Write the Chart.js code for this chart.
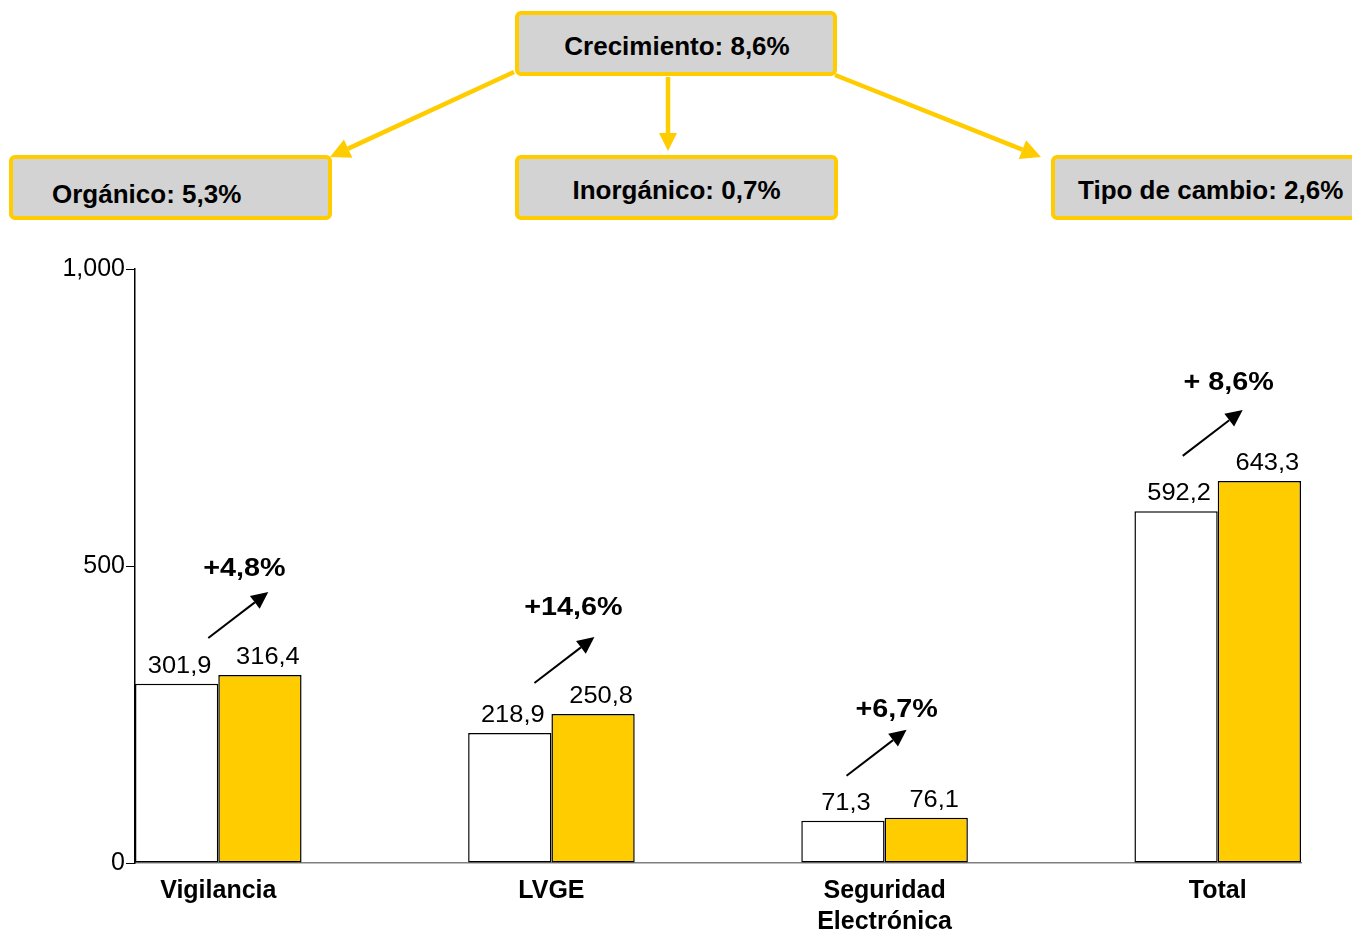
<!DOCTYPE html>
<html>
<head>
<meta charset="utf-8">
<script src="https://cdn.jsdelivr.net/npm/chart.js@4.4.1/dist/chart.umd.min.js"></script>
<style>
    html, body { margin: 0; padding: 0; background: #fff; overflow: hidden; }
    #wrap { position: relative; width: 1352px; height: 935px; }
    #myChart { position: absolute; left: 0; top: 0; }
    .caja {
        position: absolute;
        box-sizing: border-box;
        height: 65px;
        border: 4px solid #ffcc00;
        border-radius: 6px;
        background: #d3d3d3;
        font: bold 26px Arial, "Liberation Sans", sans-serif;
        color: #000;
        line-height: 57px;
        white-space: nowrap;
    }
</style>
</head>
<body>
<div id="wrap">
    <canvas id="myChart" width="1352" height="935"></canvas>
    <div class="caja" style="left:515px; top:11px; width:322px; text-align:center; padding-left:2px; padding-top:3px;">Crecimiento: 8,6%</div>
    <div class="caja" style="left:9px; top:155px; width:323px; padding-left:39px; padding-top:7px;">Orgánico: 5,3%</div>
    <div class="caja" style="left:515px; top:155px; width:323px; text-align:center; padding-top:3px;">Inorgánico: 0,7%</div>
    <div class="caja" style="left:1051px; top:155px; width:330px; padding-left:23px; padding-top:3px;">Tipo de cambio: 2,6%</div>
</div>
<script>
// dane
const kategorie = ['Vigilancia', 'LVGE', ['Seguridad', 'Electrónica'], 'Total'];
const rok_poprzedni = [301.9, 218.9, 71.3, 592.2];
const rok_biezacy = [316.4, 250.8, 76.1, 643.3];
const wzrost = ['+4,8%', '+14,6%', '+6,7%', '+ 8,6%'];
const ticki_y = [0, 500, 1000];

const FONT = 'Arial, "Liberation Sans", sans-serif';
Chart.defaults.font.family = FONT;
Chart.defaults.color = '#000';

function punkty(wartosci) {
    return wartosci.map(function (v, i) { return { x: i, y: v }; });
}

function formatuj(v) {
    return v.toFixed(1).replace('.', ',');
}

function strzalka(ctx, x0, y0, x1, y1, kolor, grubosc, dl, szer) {
    var dx = x1 - x0, dy = y1 - y0;
    var len = Math.sqrt(dx * dx + dy * dy);
    var ux = dx / len, uy = dy / len;
    var bx = x1 - ux * dl, by = y1 - uy * dl;
    ctx.save();
    ctx.strokeStyle = kolor;
    ctx.fillStyle = kolor;
    ctx.lineWidth = grubosc;
    ctx.beginPath();
    ctx.moveTo(x0, y0);
    ctx.lineTo(bx, by);
    ctx.stroke();
    ctx.beginPath();
    ctx.moveTo(x1, y1);
    ctx.lineTo(bx + uy * szer, by - ux * szer);
    ctx.lineTo(bx - uy * szer, by + ux * szer);
    ctx.closePath();
    ctx.fill();
    ctx.restore();
}

// przesuniecia strzalek wzgledem srodka grupy / wierzcholka slupka
const przes_strzalki = [[-10, -37], [-17, -31], [-38, -42], [-35, -25]];
const przes_etykiety = [[-24, -25], [-21, -31], [-10, -22], [-14, -29]];

const adnotacje = {
    id: 'adnotacje',
    afterDatasetsDraw: function (chart) {
        var ctx = chart.ctx;
        // zolte strzalki naglowka
        strzalka(ctx, 514, 72, 330, 157, '#ffcc00', 4.5, 20, 10);
        strzalka(ctx, 668, 77, 668, 151, '#ffcc00', 4.5, 18, 9);
        strzalka(ctx, 835, 75, 1041, 157, '#ffcc00', 4.5, 20, 10);

        var m0 = chart.getDatasetMeta(0).data;
        var m1 = chart.getDatasetMeta(1).data;
        ctx.save();
        ctx.fillStyle = '#000';
        ctx.textAlign = 'center';
        ctx.textBaseline = 'alphabetic';
        for (var i = 0; i < m0.length; i++) {
            ctx.save();
            ctx.font = '24px ' + FONT;
            ctx.translate(m0[i].x + 3, m0[i].y - 11);
            ctx.scale(1.06, 1);
            ctx.fillText(formatuj(rok_poprzedni[i]), 0, 0);
            ctx.restore();
            ctx.save();
            ctx.font = '24px ' + FONT;
            ctx.translate(m1[i].x + 8, m1[i].y - 11);
            ctx.scale(1.06, 1);
            ctx.fillText(formatuj(rok_biezacy[i]), 0, 0);
            ctx.restore();
        }
        for (var i = 0; i < m1.length; i++) {
            var srodek = (m0[i].x + m1[i].x) / 2;
            var x0 = srodek + przes_strzalki[i][0];
            var y0 = m1[i].y + przes_strzalki[i][1];
            var x1 = x0 + 60, y1 = y0 - 46;
            strzalka(ctx, x0, y0, x1, y1, '#000', 2, 17, 8);
            ctx.save();
            ctx.translate(x1 + przes_etykiety[i][0], y1 + przes_etykiety[i][1] + 9);
            ctx.scale(1.15, 1);
            ctx.font = 'bold 25px ' + FONT;
            ctx.fillText(wzrost[i], 0, 0);
            ctx.restore();
        }
        ctx.restore();
    }
};

const CHART = document.getElementById('myChart');
let wykres = new Chart(CHART, {
    type: 'bar',
    data: {
        datasets: [
            {
                label: '2007',
                data: punkty(rok_poprzedni),
                backgroundColor: '#ffffff',
                borderColor: '#000000',
                borderWidth: 1.5,
                borderSkipped: false
            },
            {
                label: '2008',
                data: punkty(rok_biezacy),
                backgroundColor: '#ffcc00',
                borderColor: '#000000',
                borderWidth: 1.5,
                borderSkipped: false
            }
        ]
    },
    options: {
        responsive: false,
        animation: false,
        categoryPercentage: 0.5,
        barPercentage: 1.0,
        layout: {
            padding: { top: 269, right: 51, left: 0, bottom: 0 }
        },
        plugins: {
            legend: { display: false },
            tooltip: { enabled: false }
        },
        scales: {
            x: {
                type: 'linear',
                offset: false,
                min: -0.25,
                max: 3.25,
                afterBuildTicks: function (scale) {
                    scale.ticks = kategorie.map(function (k, i) { return { value: i }; });
                },
                afterFit: function (scale) {
                    scale.height = 72;
                },
                grid: { display: false, drawTicks: false },
                border: { display: true, color: '#808080', width: 1.5 },
                ticks: {
                    padding: 12,
                    autoSkip: false,
                    maxRotation: 0,
                    color: '#000',
                    font: { size: 25, weight: 'bold', lineHeight: 1.25 },
                    callback: function (value) {
                        return kategorie[value];
                    }
                }
            },
            y: {
                min: 0,
                max: 1000,
                afterBuildTicks: function (scale) {
                    scale.ticks = ticki_y.map(function (v) { return { value: v }; });
                },
                afterFit: function (scale) {
                    scale.width = 135;
                },
                grid: {
                    drawOnChartArea: false,
                    drawTicks: true,
                    tickLength: 9,
                    color: '#000',
                    lineWidth: 1
                },
                border: { display: true, color: '#000', width: 1.5 },
                ticks: {
                    padding: 1,
                    color: '#000',
                    font: { size: 25 },
                    callback: function (value) {
                        return value.toLocaleString('en-US');
                    }
                }
            }
        }
    },
    plugins: [adnotacje]
});
</script>
</body>
</html>
